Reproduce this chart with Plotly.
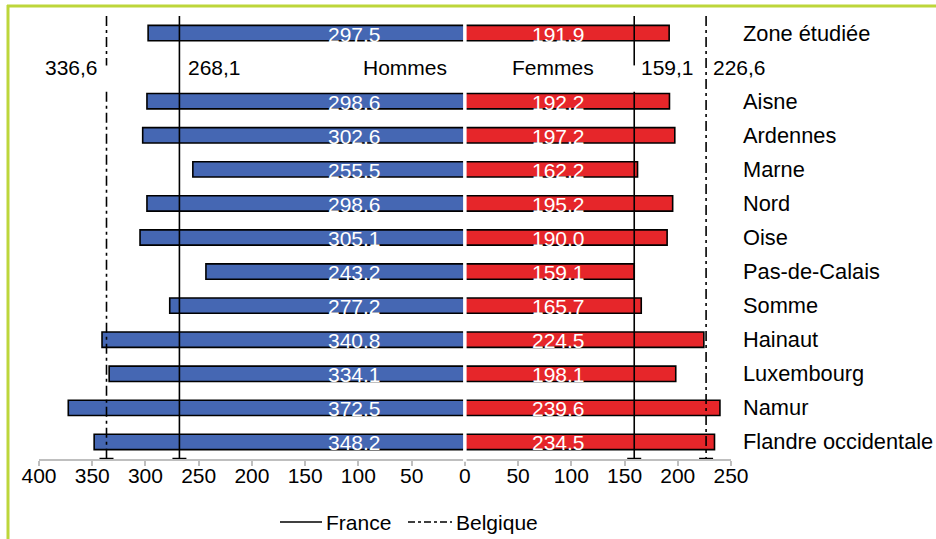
import plotly.graph_objects as go

# Taux par région (hommes à gauche, femmes à droite)
regions = ["Zone étudiée", "Aisne", "Ardennes", "Marne", "Nord", "Oise",
           "Pas-de-Calais", "Somme", "Hainaut", "Luxembourg", "Namur",
           "Flandre occidentale"]
hommes = [297.5, 298.6, 302.6, 255.5, 298.6, 305.1, 243.2, 277.2, 340.8,
          334.1, 372.5, 348.2]
femmes = [191.9, 192.2, 197.2, 162.2, 195.2, 190.0, 159.1, 165.7, 224.5,
          198.1, 239.6, 234.5]
hommes_txt = ["297.5", "298.6", "302.6", "255.5", "298.6", "305.1", "243.2",
              "277.2", "340.8", "334.1", "372.5", "348.2"]
femmes_txt = ["191,9", "192,2", "197,2", "162,2", "195,2", "190,0", "159.1",
              "165.7", "224.5", "198.1", "239.6", "234.5"]

# Valeurs nationales de référence
france_h, france_f = 268.1, 159.1
belgique_h, belgique_f = 336.6, 226.6

tick_vals = [-400, -350, -300, -250, -200, -150, -100, -50, 0, 50, 100, 150, 200, 250]
tick_text = [str(abs(v)) for v in tick_vals]

# Ligne 0 : zone étudiée, ligne 1 : séparateur, puis les départements/provinces
rows = [0] + list(range(2, 2 + len(regions) - 1))

BLUE = "#4567B3"
RED = "#E6262A"
FONT = "Liberation Sans, Arial, sans-serif"
FS = 21
FS_LAB = 21.8
Y_TOP, Y_BOT = -0.5, 12.5

fig = go.Figure()
fig.add_trace(go.Bar(y=rows, x=[-v for v in hommes], orientation="h", width=0.45,
                     marker=dict(color=BLUE, line=dict(color="black", width=1.6)),
                     showlegend=False, hoverinfo="skip"))
fig.add_trace(go.Bar(y=rows, x=femmes, orientation="h", width=0.45,
                     marker=dict(color=RED, line=dict(color="black", width=1.6)),
                     showlegend=False, hoverinfo="skip"))

# Lignes de référence (interrompues au niveau des étiquettes)
def ref_line(x, dash, gap):
    if gap:
        ys = [Y_TOP, 0.95, None, 1.72, Y_BOT]
        xs = [x, x, None, x, x]
    else:
        ys = [Y_TOP, Y_BOT]
        xs = [x, x]
    fig.add_trace(go.Scatter(x=xs, y=ys, mode="lines",
                             line=dict(color="black", width=1.6, dash=dash),
                             showlegend=False, hoverinfo="skip", cliponaxis=False))
    fig.add_trace(go.Scatter(x=[x], y=[Y_BOT], mode="markers",
                             marker=dict(symbol="line-ew", size=10,
                                         line=dict(color="black", width=2.5)),
                             showlegend=False, hoverinfo="skip", cliponaxis=False))

DASHDOT = "10px,4px,3px,4px"
ref_line(-france_h, "solid", False)
ref_line(france_f, "solid", True)
ref_line(-belgique_h, DASHDOT, True)
ref_line(belgique_f, DASHDOT, False)

ann = []
for r, name, th, tf in zip(rows, regions, hommes_txt, femmes_txt):
    ann.append(dict(x=1.0145, xref="paper", y=r, yref="y", text=name,
                    xanchor="left", showarrow=False,
                    font=dict(family=FONT, size=FS_LAB, color="black")))
    ann.append(dict(x=-104, y=r, text=th, showarrow=False, yshift=-1,
                    font=dict(family=FONT, size=FS, color="white")))
    ann.append(dict(x=88, y=r, text=tf, showarrow=False, yshift=-1,
                    font=dict(family=FONT, size=FS, color="white")))

def fmt(v):
    return f"{v:.1f}".replace(".", ",")

ann += [
    dict(x=-belgique_h, y=1, text=fmt(belgique_h), xanchor="right", xshift=-7,
         showarrow=False, font=dict(family=FONT, size=FS, color="black")),
    dict(x=-france_h, y=1, text=fmt(france_h), xanchor="left", xshift=7,
         showarrow=False, font=dict(family=FONT, size=FS, color="black")),
    dict(x=-56, y=1, text="Hommes", showarrow=False,
         font=dict(family=FONT, size=FS, color="black")),
    dict(x=83, y=1, text="Femmes", showarrow=False,
         font=dict(family=FONT, size=FS, color="black")),
    dict(x=france_f, y=1, text=fmt(france_f), xanchor="left", xshift=5,
         showarrow=False, font=dict(family=FONT, size=FS, color="black")),
    dict(x=belgique_f, y=1, text=fmt(belgique_f), xanchor="left", xshift=5,
         showarrow=False, font=dict(family=FONT, size=FS, color="black")),
]

# Légende
def px_x(p):
    return (p - 39) / 692

def px_y(p):
    return (459 - p) / 443

leg_y = px_y(522)
GREEN = "#BDD63A"
shapes = [
    dict(type="line", xref="paper", yref="paper", x0=px_x(280), x1=px_x(322),
         y0=leg_y, y1=leg_y, line=dict(color="black", width=1.5)),
    dict(type="line", xref="paper", yref="paper", x0=px_x(408), x1=px_x(452),
         y0=leg_y, y1=leg_y, line=dict(color="black", width=1.6, dash="7px,3px,3px,3px")),
    # séparation blanche à zéro
    dict(type="line", xref="x", yref="paper", x0=0, x1=0, y0=-0.006, y1=1,
         line=dict(color="white", width=3.5), layer="above"),
    # cadre (bords gauche et haut)
    dict(type="line", xref="paper", yref="paper", x0=px_x(8), x1=px_x(8),
         y0=px_y(545), y1=px_y(5), line=dict(color=GREEN, width=3),
         layer="above"),
    dict(type="line", xref="paper", yref="paper", x0=px_x(7), x1=px_x(940),
         y0=px_y(6), y1=px_y(6), line=dict(color=GREEN, width=3),
         layer="above"),
]
ann += [
    dict(x=px_x(324), y=leg_y, xref="paper", yref="paper", text="France",
         xanchor="left", yanchor="middle", showarrow=False,
         font=dict(family=FONT, size=FS, color="black")),
    dict(x=px_x(454), y=leg_y, xref="paper", yref="paper", text="Belgique",
         xanchor="left", yanchor="middle", showarrow=False,
         font=dict(family=FONT, size=FS, color="black")),
]

fig.update_layout(
    width=936, height=539,
    margin=dict(l=39, r=205, t=16, b=80),
    plot_bgcolor="white", paper_bgcolor="white",
    barmode="overlay",
    annotations=ann, shapes=shapes,
    xaxis=dict(range=[-400, 250], tickvals=tick_vals, ticktext=tick_text,
               showgrid=False, zeroline=False, showline=True,
               linecolor="#BFBFBF", linewidth=2, ticks="outside", ticklen=5,
               tickcolor="#BFBFBF", tickwidth=2, ticklabelstandoff=-8,
               tickfont=dict(family=FONT, size=FS, color="black")),
    yaxis=dict(range=[Y_BOT, Y_TOP], showgrid=False, zeroline=False,
               showticklabels=False, showline=False),
)

fig.write_html("out.html")
